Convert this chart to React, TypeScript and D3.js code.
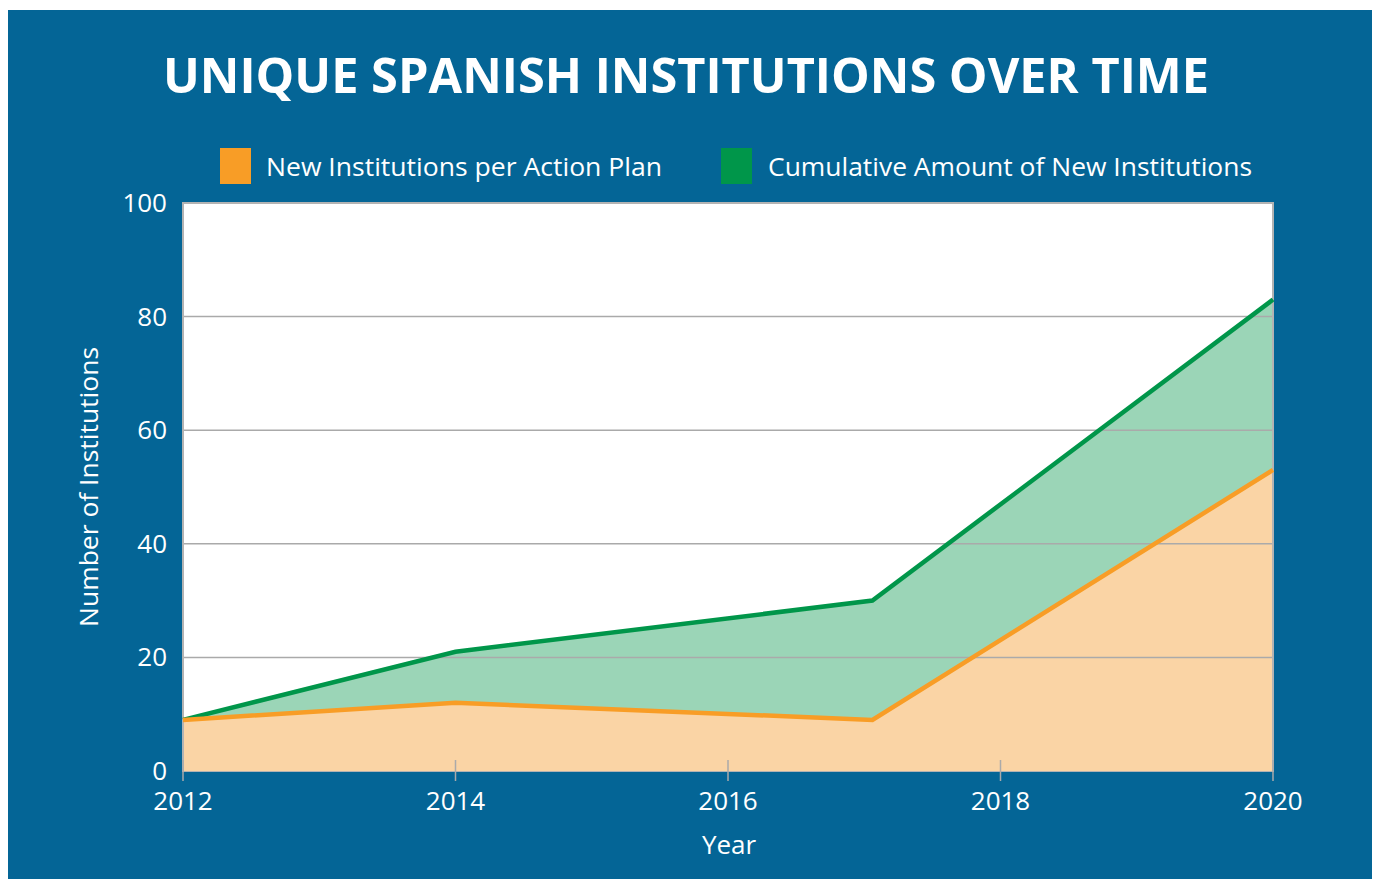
import React from "react";
import * as d3 from "d3";

const years = [2012, 2014, 2017.06, 2020];
const newInstitutions = [9, 12, 9, 53];
const cumulative = [9, 21, 30, 83];
const yTicks = [0, 20, 40, 60, 80, 100];
const xTicks = [2012, 2014, 2016, 2018, 2020];
const legendLabels = ["New Institutions per Action Plan", "Cumulative Amount of New Institutions"];

const FONT = "'Open Sans', Lato, sans-serif";

export default function App() {
  const W = 1376, H = 879;
  const left = 183, right = 1273, top = 203, bottom = 771;
  const x = d3.scaleLinear().domain([2012, 2020]).range([left, right]);
  const y = d3.scaleLinear().domain([0, 100]).range([bottom, top]);

  const dNew = years.map((yr, i) => ({ x: yr, y: newInstitutions[i] }));
  const dCum = years.map((yr, i) => ({ x: yr, y: cumulative[i] }));

  const area = d3.area<{ x: number; y: number }>().x(d => x(d.x)).y0(bottom).y1(d => y(d.y));
  const line = d3.line<{ x: number; y: number }>().x(d => x(d.x)).y(d => y(d.y));

  return (
    <svg width={W} height={H} style={{ position: "absolute", left: 0, top: 0 }}>
      <rect x={0} y={0} width={W} height={H} fill="#ffffff" />
      <rect x={8} y={10} width={1364} height={869} fill="#046596" />
      <text x={163} y={93} fill="#fff" fontFamily={FONT} fontWeight={700} fontSize={48}
        textLength={1046} lengthAdjust="spacingAndGlyphs">
        UNIQUE SPANISH INSTITUTIONS OVER TIME
      </text>
      {/* legend */}
      <rect x={220} y={148} width={31} height={36} fill="#f89d26" />
      <text x={266} y={176} fill="#fff" fontFamily={FONT} fontSize={25}
        textLength={396} lengthAdjust="spacingAndGlyphs">{legendLabels[0]}</text>
      <rect x={721} y={148} width={31} height={36} fill="#00964a" />
      <text x={768} y={176} fill="#fff" fontFamily={FONT} fontSize={25}
        textLength={484} lengthAdjust="spacingAndGlyphs">{legendLabels[1]}</text>

      {/* plot */}
      <rect x={left} y={top} width={right - left} height={bottom - top} fill="#fff" stroke="#b3b3b3" strokeWidth={2} />
      <path d={area(dCum) || ""} fill="#9bd5b7" />
      <path d={area(dNew) || ""} fill="#fad4a5" />
      {yTicks.filter(t => t > 0 && t < 100).map(t => (
        <line key={t} x1={left} x2={right} y1={y(t)} y2={y(t)} stroke="#aaaaaa" strokeWidth={1.5} />
      ))}
      <line x1={left} x2={left} y1={top} y2={bottom} stroke="#b3b3b3" strokeWidth={2} />
      <line x1={right} x2={right} y1={top} y2={bottom} stroke="#b3b3b3" strokeWidth={2} />
      <path d={line(dCum) || ""} fill="none" stroke="#00964a" strokeWidth={4.5} strokeLinejoin="miter" />
      <path d={line(dNew) || ""} fill="none" stroke="#f89d26" strokeWidth={4.5} strokeLinejoin="miter" />
      {xTicks.map(t => (
        <line key={t} x1={x(t)} x2={x(t)} y1={bottom - 11} y2={bottom + 10} stroke="#aaaaaa" strokeWidth={1.5} />
      ))}
      {yTicks.map(t => (
        <text key={t} x={167} y={y(t) + 9} textAnchor="end" fill="#fff" fontFamily={FONT} fontSize={26}>{t}</text>
      ))}
      {xTicks.map(t => (
        <text key={t} x={x(t)} y={810} textAnchor="middle" fill="#fff" fontFamily={FONT} fontSize={26}>{t}</text>
      ))}
      <text x={729} y={854} textAnchor="middle" fill="#fff" fontFamily={FONT} fontSize={26}>Year</text>
      <text transform="translate(98,487) rotate(-90)" textAnchor="middle" fill="#fff" fontFamily={FONT} fontSize={25}
        textLength={280} lengthAdjust="spacingAndGlyphs">
        Number of Institutions
      </text>
    </svg>
  );
}
